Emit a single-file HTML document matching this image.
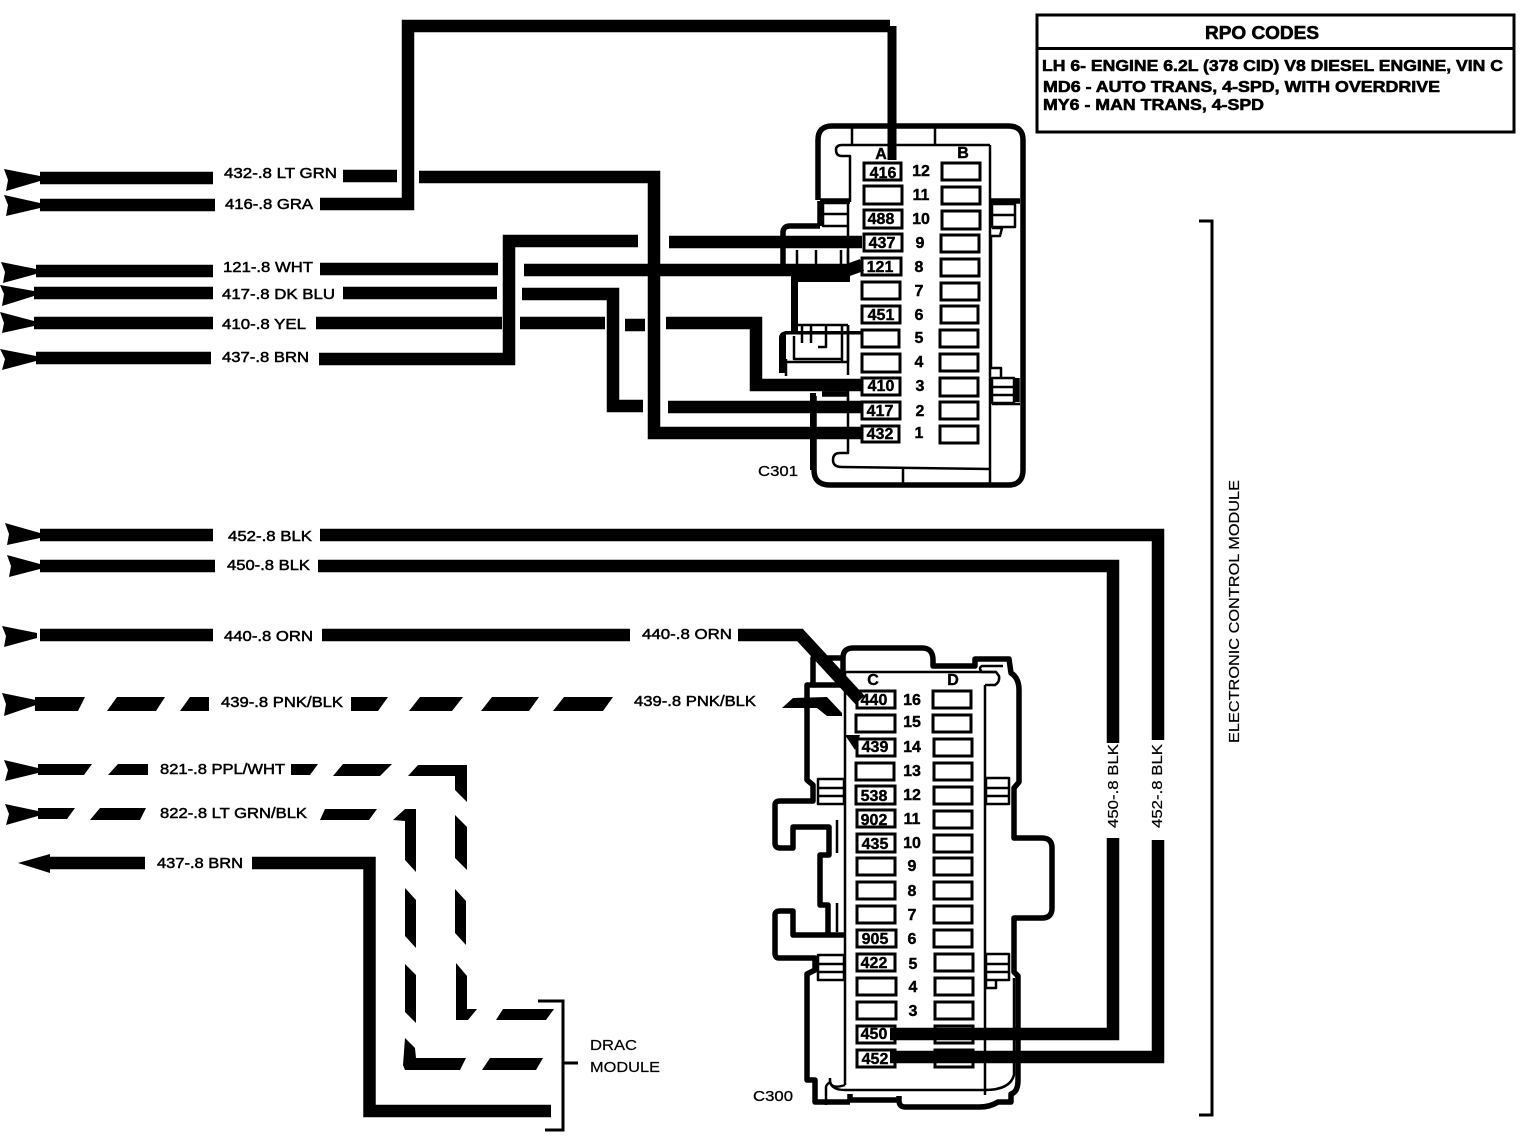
<!DOCTYPE html>
<html><head><meta charset="utf-8"><style>
html,body{margin:0;padding:0;background:#fff}
svg{display:block}
text{font-family:"Liberation Sans",sans-serif;fill:#000}
.l{font-size:15px;stroke:#000;stroke-width:.5}
.p{font-size:16px;font-weight:bold;text-anchor:middle;stroke:#000;stroke-width:.4}
.n{font-size:16px;font-weight:bold;text-anchor:middle;stroke:#000;stroke-width:.4}
.r{font-size:16px;font-weight:bold;stroke:#000;stroke-width:.6}
.w{fill:none;stroke:#000;stroke-width:12.5;stroke-linejoin:miter}
.t{fill:none;stroke:#000;stroke-width:5.5;stroke-linejoin:round}
.s{fill:none;stroke:#000;stroke-width:2.5;stroke-linejoin:round}
.b{fill:#fff;stroke:#000;stroke-width:3}
</style></head><body>
<svg width="1524" height="1136" viewBox="0 0 1524 1136" xmlns="http://www.w3.org/2000/svg">

<!-- C301 connector -->
<g>
<path class="t" d="M818 200V140Q818 126 832 126H1008Q1023 126 1023 140V470Q1023 485 1008 485H830Q814 485 814 470V396"/>
<path class="t" d="M820 201H850M990 201H1020"/>
<path class="s" d="M852 127V144M935 127V144"/>
<path class="s" d="M990 145H842Q836 145 836 150Q836 156 842 156H850V202"/>
<path class="s" d="M990 145V485M903 468V485"/>
<path class="s" d="M848 398V453H840Q833 453 833 460Q833 467 842 467L990 469"/>
<path class="s" d="M848 226V280M848 325V375"/>
<rect class="s" x="823" y="203" width="25" height="23"/><path class="s" d="M823 214H848"/>
<rect class="s" x="992" y="204" width="23" height="23"/><path class="s" d="M992 215H1015"/>
<rect class="s" x="992" y="378" width="22" height="25"/><path class="s" d="M992 387H1014M992 395H1014M992 404H1020"/>
<path class="s" d="M992 228H1002L1000 236H991V368H1001V378"/>
<path class="t" d="M820 201V226M1017 378V402"/>
<path class="t" d="M820 226H790Q783 226 783 233V268"/>
<path class="s" d="M797 250V268M816 250V266M841 250V266M848 250V266"/>
<path d="M791 266H850V282H798V331H791Z"/>
<path class="s" d="M798 325H848M802 325V343M811 325V343M826 325V347H818M842 325V362M848 325V362"/>
<path d="M779 373V338Q779 332 786 331H864V334.500H786V373Z"/>
<path class="s" d="M794 336V359H842M786 359V376"/>
<path class="s" d="M785 362H848"/>
<path class="t" d="M822 394H848"/>
<path class="s" d="M822 390H848M848 380V400"/>
<path d="M810 393H816V470H810Z"/>
</g>

<!-- C300 connector -->
<g>
<path class="t" d="M843 680V658Q843 648 853 648H922Q933 648 933 660V666H975V659H1009L1011 673Q1019 678 1019 690V782L1014 788V838H1042Q1052 838 1052 848V908Q1052 918 1042 918H1014V972L1018 976V1080Q1018 1092 1011 1094V1102H998Q990 1107 980 1107H905Q899 1107 899 1100V1096"/>
<path class="t" d="M899 1100H850V1094"/>
<path class="t" d="M850 1102H815V1080H807V974L815 970V958H779Q775 958 775 953V915Q775 911 780 911H793V935H844M828 935V905H820V855H829V827H793V848H780Q775 848 775 843V805Q775 801 780 801H813V785L807 780V685H813V658H843"/>
<path class="t" d="M813 685H843"/>
<path class="s" d="M845 672V1085M985 685V1095M845 672H996"/>
<path class="s" d="M985 685H995Q1000 682 999 676L996 672H982Q978 668 982 666H1003"/>
<path class="s" d="M845 1085Q830 1090 830 1080V1078M830 1082Q832 1090 845 1090H985Q1010 1090 1014 1075V978"/>
<rect class="s" x="818" y="779" width="26" height="25"/><path class="s" d="M818 788H844M818 796H844"/>
<rect class="s" x="986" y="778" width="23" height="26"/><path class="s" d="M986 788H1009M986 796H1009"/>
<rect class="s" x="818" y="955" width="26" height="25"/><path class="s" d="M818 964H844M818 972H844"/>
<rect class="s" x="986" y="954" width="23" height="26"/><path class="s" d="M986 964H1009M986 972H1009M986 980V988H996V980"/>
<path class="s" d="M837 820V853M837 903V932"/>
<path class="s" d="M826 1105V1087Q826 1085 830 1082"/>
</g>

<!-- C301 pin boxes -->
<g class="b">
<rect x="864" y="163" width="37" height="17" class="b"/><rect x="864" y="186" width="38" height="18" class="b"/><rect x="864" y="210" width="38" height="18" class="b"/><rect x="864" y="234" width="38" height="17" class="b"/><rect x="862" y="258" width="39" height="17" class="b"/><rect x="862" y="282" width="38" height="17" class="b"/><rect x="862" y="306" width="38" height="17" class="b"/><rect x="862" y="330" width="37" height="17" class="b"/><rect x="862" y="354" width="38" height="18" class="b"/><rect x="862" y="378" width="38" height="17" class="b"/><rect x="862" y="402" width="38" height="17" class="b"/><rect x="862" y="426" width="37" height="16" class="b"/>
<rect x="942" y="163" width="38" height="17" class="b"/><rect x="942" y="187" width="38" height="17" class="b"/><rect x="942" y="211" width="38" height="18" class="b"/><rect x="941" y="235" width="38" height="17" class="b"/><rect x="941" y="259" width="38" height="17" class="b"/><rect x="941" y="283" width="38" height="17" class="b"/><rect x="941" y="306" width="37" height="17" class="b"/><rect x="940" y="330" width="38" height="17" class="b"/><rect x="940" y="354" width="38" height="17" class="b"/><rect x="940" y="378" width="38" height="18" class="b"/><rect x="940" y="402" width="38" height="17" class="b"/><rect x="940" y="426" width="38" height="17" class="b"/>
</g>

<!-- C300 pin boxes -->
<g>
<rect x="857" y="691" width="38" height="17" class="b"/><rect x="856" y="715" width="39" height="17" class="b"/><rect x="857" y="739" width="38" height="17" class="b"/><rect x="856" y="763" width="38" height="17" class="b"/><rect x="856" y="786" width="39" height="18" class="b"/><rect x="857" y="810" width="38" height="17" class="b"/><rect x="857" y="834" width="38" height="18" class="b"/><rect x="857" y="858" width="38" height="17" class="b"/><rect x="857" y="882" width="38" height="17" class="b"/><rect x="857" y="906" width="38" height="17" class="b"/><rect x="857" y="930" width="39" height="17" class="b"/><rect x="857" y="954" width="38" height="17" class="b"/><rect x="857" y="978" width="39" height="17" class="b"/><rect x="857" y="1002" width="39" height="17" class="b"/><rect x="857" y="1026" width="38" height="17" class="b"/><rect x="857" y="1050" width="38" height="17" class="b"/>
<rect x="933" y="691" width="38" height="17" class="b"/><rect x="933" y="715" width="38" height="17" class="b"/><rect x="934" y="739" width="38" height="17" class="b"/><rect x="934" y="763" width="38" height="17" class="b"/><rect x="934" y="787" width="38" height="17" class="b"/><rect x="934" y="811" width="38" height="17" class="b"/><rect x="934" y="835" width="38" height="17" class="b"/><rect x="934" y="858" width="38" height="17" class="b"/><rect x="934" y="882" width="38" height="17" class="b"/><rect x="934" y="906" width="38" height="17" class="b"/><rect x="934" y="930" width="38" height="17" class="b"/><rect x="935" y="954" width="38" height="17" class="b"/><rect x="935" y="978" width="38" height="17" class="b"/><rect x="935" y="1002" width="38" height="17" class="b"/><rect x="935" y="1026" width="38" height="17" class="b"/><rect x="935" y="1050" width="38" height="17" class="b"/>
</g>

<!-- solid wires -->
<g class="w">
<path class="w" d="M40 178H213M343 176H397M419 177H654V433H862"/>
<path class="w" d="M40 205H215M320 204H408V26H890"/>
<path class="w" d="M892 26V160" style="stroke-width:9"/>
<path class="w" d="M36 271H213M320 269H498M524 270L800 270H848L862 265"/>
<path class="w" d="M34 293H213M343 293H497M522 294H613V406H643M668 407H862"/>
<path class="w" d="M34 323H213M316 323H502M520 323H605M625 325H645M666 323H756V385H862"/>
<path class="w" d="M36 358H211M319 359H509V241H638M669 242H862"/>
<path class="w" d="M40 535H213M320 535H1158V740M1158 840V1057H890"/>
<path class="w" d="M40 566H215M318 566H1113V743M1113 838V1034H890"/>
<path class="w" d="M40 635H213M322 635H630M738 635H800L860 700"/>
<path class="w" d="M252 863H369.500V1111H551"/>
<path class="w" d="M50 863H145"/>
</g>

<!-- arrowheads -->
<g>
<polygon points="4,169 40,176 40,181 6,191 8,180"/>
<polygon points="4,195 40,203 40,208 6,216 8,205"/>
<polygon points="1,262 36,269 36,274 3,283 5,272"/>
<polygon points="0,285 34,291 34,296 2,306 4,294"/>
<polygon points="0,312 34,321 34,326 2,333 4,323"/>
<polygon points="0,349 36,356 36,361 2,370 5,359"/>
<polygon points="5,523 40,533 40,538 7,545 9,534"/>
<polygon points="7,555 40,564 40,569 9,577 11,566"/>
<polygon points="2,626 37,633 37,638 4,647 6,636"/>
<polygon points="2,693 36,700 36,705 4,716 6,704"/>
<polygon points="4,760 38,768 38,773 5,781 8,770"/>
<polygon points="5,804 38,811 38,816 6,825 9,814"/>
<polygon points="18,863 50,854 50,873"/>
</g>

<!-- dashed wires -->
<g>
<polygon points="35,697 85,697 78,711 35,711"/><polygon points="117,697 165,697 156,711 107,711"/><polygon points="190,697 209,697 209,711 180,711"/><polygon points="351,697 388,697 378,711 351,711"/><polygon points="420,697 463,697 452,711 409,711"/><polygon points="492,697 539,697 529,711 481,711"/><polygon points="564,697 613,697 603,711 553,711"/>
<polygon points="782,708 793,698 827,697 842,713 842,716 827,716 817,708"/>
<polygon points="845,735 860,735 855,750"/>

<polygon points="38,764 92,764 84,775 38,775"/><polygon points="118,764 148,764 148,775 108,775"/><polygon points="291,764 318,764 310,775 291,775"/><polygon points="343,764 392,764 380,776 333,776"/><polygon points="418,765 467,765 467,802 455,790 455,776 408,776"/>
<polygon points="455,815 467,827 467,870 455,858"/><polygon points="455,889 466,901 466,945 455,933"/><polygon points="456,963 467,976 467,1009 477,1009 468,1020 456,1020"/>
<polygon points="503,1009 554,1009 546,1020 496,1020"/><polygon points="38,808 75,808 67,819 38,819"/><polygon points="100,808 146,808 140,820 90,820"/><polygon points="325,809 377,809 369,820 320,820"/>
<polygon points="393,820 405,809 416,809 416,872 405,860 405,821"/><polygon points="405,888 416,900 416,948 405,936"/><polygon points="405,964 416,975 416,1023 405,1012"/><polygon points="405,1038 415,1048 416,1058 466,1058 460,1070 405,1070 403,1065"/>
<polygon points="490,1058 543,1058 536,1070 482,1070"/>
</g>

<!-- wire labels -->
<g class="l">
<text x="224" y="178" textLength="113" lengthAdjust="spacingAndGlyphs" class="l">432-.8 LT GRN</text>
<text x="225" y="209" textLength="88" lengthAdjust="spacingAndGlyphs" class="l">416-.8 GRA</text>
<text x="223" y="272" textLength="90" lengthAdjust="spacingAndGlyphs" class="l">121-.8 WHT</text>
<text x="222" y="299" textLength="113" lengthAdjust="spacingAndGlyphs" class="l">417-.8 DK BLU</text>
<text x="222" y="329" textLength="84" lengthAdjust="spacingAndGlyphs" class="l">410-.8 YEL</text>
<text x="222" y="362" textLength="87" lengthAdjust="spacingAndGlyphs" class="l">437-.8 BRN</text>
<text x="228" y="541" textLength="84" lengthAdjust="spacingAndGlyphs" class="l">452-.8 BLK</text>
<text x="227" y="570" textLength="83" lengthAdjust="spacingAndGlyphs" class="l">450-.8 BLK</text>
<text x="224" y="641" textLength="89" lengthAdjust="spacingAndGlyphs" class="l">440-.8 ORN</text>
<text x="642" y="639" textLength="90" lengthAdjust="spacingAndGlyphs" class="l">440-.8 ORN</text>
<text x="221" y="707" textLength="122" lengthAdjust="spacingAndGlyphs" class="l">439-.8 PNK/BLK</text>
<text x="634" y="706" textLength="122" lengthAdjust="spacingAndGlyphs" class="l">439-.8 PNK/BLK</text>
<text x="160" y="774" textLength="125" lengthAdjust="spacingAndGlyphs" class="l">821-.8 PPL/WHT</text>
<text x="160" y="818" textLength="147" lengthAdjust="spacingAndGlyphs" class="l">822-.8 LT GRN/BLK</text>
<text x="157" y="868" textLength="86" lengthAdjust="spacingAndGlyphs" class="l">437-.8 BRN</text>
<text x="590" y="1050" textLength="47" lengthAdjust="spacingAndGlyphs" class="l" style="stroke-width:.2">DRAC</text>
<text x="590" y="1072" textLength="70" lengthAdjust="spacingAndGlyphs" class="l" style="stroke-width:.2">MODULE</text>
<text x="758" y="476" textLength="40" lengthAdjust="spacingAndGlyphs" class="l" style="stroke-width:.3">C301</text>
<text x="753" y="1101" textLength="40" lengthAdjust="spacingAndGlyphs" class="l" style="stroke-width:.3">C300</text>
</g>
<text transform="translate(1118,828) rotate(-90)" textLength="84" lengthAdjust="spacingAndGlyphs" class="l" style="stroke-width:.2">450-.8 BLK</text>
<text transform="translate(1162,828) rotate(-90)" textLength="84" lengthAdjust="spacingAndGlyphs" class="l" style="stroke-width:.2">452-.8 BLK</text>
<text transform="translate(1239,743) rotate(-90)" textLength="263" lengthAdjust="spacingAndGlyphs" class="l" style="stroke-width:.2">ELECTRONIC CONTROL MODULE</text>

<!-- C301 text -->
<g>
<text x="881" y="159" class="p">A</text><text x="963" y="158" class="p">B</text>
<text x="883" y="178" class="p">416</text><text x="881" y="224" class="p">488</text><text x="882" y="248" class="p">437</text><text x="880" y="272" class="p">121</text><text x="881" y="320" class="p">451</text><text x="881" y="391" class="p">410</text><text x="880" y="416" class="p">417</text><text x="880" y="439" class="p">432</text>
<text x="921" y="176" class="n">12</text><text x="921" y="200" class="n">11</text><text x="921" y="224" class="n">10</text><text x="920" y="248" class="n">9</text><text x="919" y="272" class="n">8</text><text x="919" y="296" class="n">7</text><text x="919" y="320" class="n">6</text><text x="919" y="343" class="n">5</text><text x="919" y="367" class="n">4</text><text x="920" y="391" class="n">3</text><text x="920" y="416" class="n">2</text><text x="919" y="438" class="n">1</text>
</g>
<!-- C300 text -->
<g>
<text x="873" y="685" class="p">C</text><text x="953" y="685" class="p">D</text>
<text x="874" y="705" class="p">440</text><text x="875" y="752" class="p">439</text><text x="874" y="801" class="p">538</text><text x="874" y="825" class="p">902</text><text x="875" y="849" class="p">435</text><text x="875" y="944" class="p">905</text><text x="874" y="968" class="p">422</text><text x="874" y="1039" class="p">450</text><text x="875" y="1064" class="p">452</text>
<text x="912" y="705" class="n">16</text><text x="912" y="727" class="n">15</text><text x="912" y="752" class="n">14</text><text x="912" y="776" class="n">13</text><text x="912" y="800" class="n">12</text><text x="912" y="824" class="n">11</text><text x="912" y="848" class="n">10</text><text x="912" y="871" class="n">9</text><text x="912" y="896" class="n">8</text><text x="912" y="920" class="n">7</text><text x="912" y="944" class="n">6</text><text x="913" y="969" class="n">5</text><text x="913" y="992" class="n">4</text><text x="913" y="1016" class="n">3</text>
</g>

<!-- RPO box -->
<rect x="1037" y="15" width="477" height="117" fill="none" stroke="#000" stroke-width="3"/>
<path d="M1037 48.500H1514" stroke="#000" stroke-width="3"/>
<text x="1205" y="39" class="r" textLength="114" lengthAdjust="spacingAndGlyphs" style="font-size:18px">RPO CODES</text>
<text x="1042" y="71" class="r" textLength="461" lengthAdjust="spacingAndGlyphs">LH 6- ENGINE 6.2L (378 CID) V8 DIESEL ENGINE, VIN C</text>
<text x="1043" y="92" class="r" textLength="397" lengthAdjust="spacingAndGlyphs">MD6 - AUTO TRANS, 4-SPD, WITH OVERDRIVE</text>
<text x="1043" y="110" class="r" textLength="221" lengthAdjust="spacingAndGlyphs">MY6 - MAN TRANS, 4-SPD</text>

<!-- brackets -->
<path d="M1199 221H1212V1115H1199" fill="none" stroke="#000" stroke-width="3"/>
<path d="M538 1001H563V1130H545M563 1063H578" fill="none" stroke="#000" stroke-width="3"/>
</svg>
</body></html>
